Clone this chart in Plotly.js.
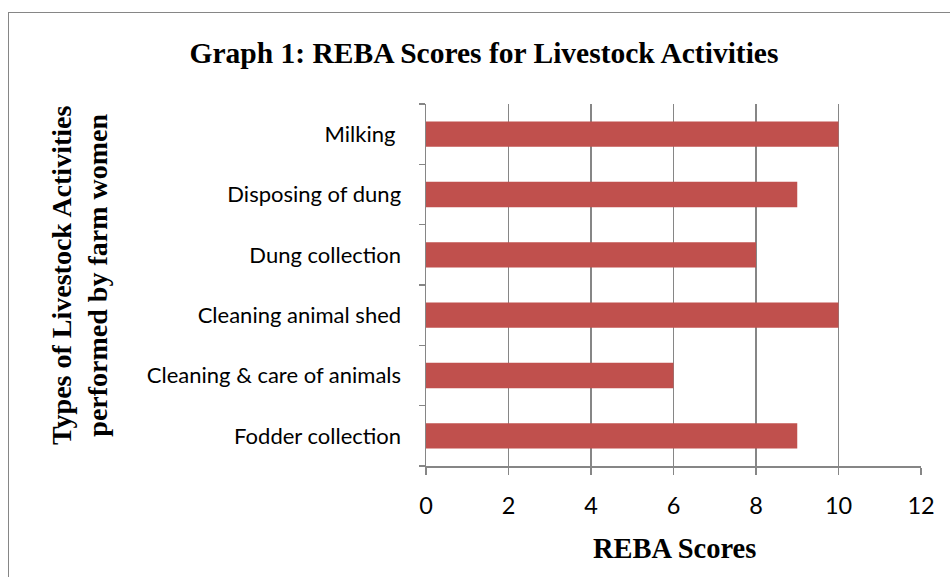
<!DOCTYPE html>
<html>
<head>
<meta charset="utf-8">
<script src="https://cdn.plot.ly/plotly-3.0.1.min.js"></script>
<style>
html,body{margin:0;padding:0;background:#fff;}
#wrap{position:relative;width:950px;height:577px;overflow:hidden;}
#chart{width:950px;height:577px;}
#frame{position:absolute;left:8px;top:12px;width:1000px;height:700px;border-left:1.5px solid #868686;border-top:1.5px solid #868686;pointer-events:none;}
</style>
</head>
<body>
<div id="wrap"><div id="chart"></div><div id="frame"></div></div>
<script>
const categories = ["Fodder collection", "Cleaning & care of animals", "Cleaning animal shed", "Dung collection", "Disposing of dung", "Milking\u00a0"];
const rebaScores = [9, 6, 10, 8, 9, 10];
const xTickValues = [0, 2, 4, 6, 8, 10, 12];
const chartTitle = "Graph 1: REBA Scores for Livestock Activities";
const xTitle = "REBA Scores";
const yTitleLines = ["Types of Livestock Activities", "performed by farm women"];

const gray = "#868686";
const serif = "Liberation Serif, Times New Roman, serif";
const sans = "Lato, Open Sans, sans-serif";

const trace = {
  type: "bar",
  orientation: "h",
  y: categories,
  x: rebaScores,
  marker: {color: "#C0504D"},
  hoverinfo: "x+y"
};

const layout = {
  width: 950,
  height: 577,
  margin: {l: 426, r: 29, t: 104, b: 111},
  paper_bgcolor: "#fff",
  plot_bgcolor: "#fff",
  showlegend: false,
  bargap: 0.58,
  title: {
    text: "<b>" + chartTitle + "</b>",
    font: {family: serif, size: 29.5, color: "#000"},
    x: 484/950, xref: "container", xanchor: "center",
    y: 1 - 53/577, yref: "container", yanchor: "middle"
  },
  xaxis: {
    range: [0, 12],
    tickvals: xTickValues,
    ticktext: xTickValues.map(String),
    showgrid: true,
    gridcolor: gray,
    gridwidth: 1.5,
    zeroline: false,
    showline: true,
    linecolor: gray,
    linewidth: 1.5,
    ticks: "outside",
    ticklen: 7,
    tickcolor: gray,
    tickwidth: 1.5,
    tickfont: {family: sans, size: 23.5, color: "#000"},
    ticklabelstandoff: 11,
    fixedrange: true
  },
  yaxis: {
    type: "category",
    categoryorder: "array",
    categoryarray: categories,
    showgrid: false,
    zeroline: false,
    showline: true,
    linecolor: gray,
    linewidth: 1.5,
    ticks: "outside",
    tickson: "boundaries",
    ticklen: 6,
    tickcolor: gray,
    tickwidth: 1.5,
    tickfont: {family: sans, size: 22, color: "#000"},
    ticklabelstandoff: 19,
    fixedrange: true
  },
  annotations: [
    {
      text: "<b>" + xTitle + "</b>",
      xref: "paper", yref: "paper",
      x: (674 - 426) / 495, y: (466 - 548) / 362,
      xanchor: "center", yanchor: "middle",
      showarrow: false,
      font: {family: serif, size: 28.5, color: "#000"}
    },
    {
      text: "<b>" + yTitleLines.join("<br>") + "</b>",
      xref: "paper", yref: "paper",
      x: (79 - 426) / 495, y: (466 - 276) / 362,
      xanchor: "center", yanchor: "middle",
      textangle: -90,
      showarrow: false,
      font: {family: serif, size: 28, color: "#000"}
    }
  ]
};

Plotly.newPlot("chart", [trace], layout, {displayModeBar: false, staticPlot: true});
</script>
</body>
</html>
